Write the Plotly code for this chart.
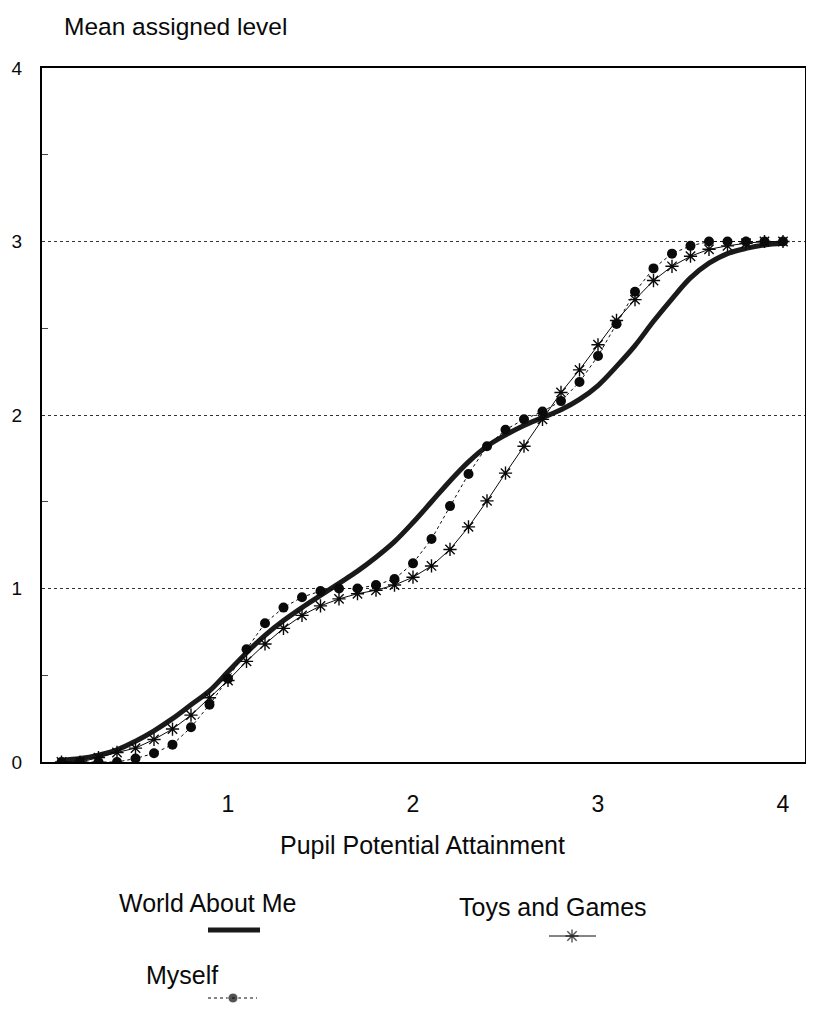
import plotly.graph_objects as go

x_vals = [round(0.1 * i, 1) for i in range(1, 41)]

world_about_me = [0.01, 0.02, 0.04, 0.07, 0.12, 0.18, 0.25, 0.33, 0.41, 0.52,
                  0.63, 0.73, 0.815, 0.89, 0.96, 1.03, 1.10, 1.18, 1.27, 1.38,
                  1.50, 1.62, 1.73, 1.82, 1.885, 1.94, 1.985, 2.03, 2.09, 2.17,
                  2.28, 2.40, 2.54, 2.67, 2.79, 2.875, 2.93, 2.96, 2.98, 2.99]

toys_and_games = [0.0, 0.0, 0.025, 0.055, 0.08, 0.13, 0.19, 0.27, 0.37, 0.47,
                  0.58, 0.68, 0.77, 0.845, 0.90, 0.94, 0.97, 0.99, 1.02, 1.065,
                  1.13, 1.225, 1.355, 1.505, 1.665, 1.82, 1.975, 2.13, 2.26, 2.405,
                  2.545, 2.665, 2.775, 2.857, 2.915, 2.955, 2.975, 2.99, 3.0, 3.0]

myself = [0.0, 0.0, 0.0, 0.0, 0.02, 0.05, 0.10, 0.20, 0.33, 0.48,
          0.65, 0.80, 0.89, 0.95, 0.985, 1.0, 1.0, 1.02, 1.055, 1.145,
          1.285, 1.475, 1.66, 1.82, 1.915, 1.975, 2.02, 2.08, 2.19, 2.34,
          2.525, 2.71, 2.845, 2.93, 2.975, 3.0, 3.0, 3.0, 3.0, 3.0]

y_ticks = [0, 1, 2, 3, 4]
x_ticks = [1, 2, 3, 4]

FONT = "Liberation Sans, Arial, sans-serif"
INK = "#0a0a0a"

# page adds an 8px body margin around the figure
W, Hfig = 798, 995
OFF = 8
ML, MR, MT = 34, 1, 60
PW = W - ML - MR
PH = Hfig - MT


def px(X):   # window pixel -> paper x
    return (X - OFF - ML) / PW


def py(Y):   # window pixel -> paper y
    return 1 - (Y - OFF - MT) / PH


main_bottom = py(762)
leg_top = main_bottom - 0.005
y2_bottom = Hfig + OFF
y2_top = y2_bottom - leg_top * PH

fig = go.Figure()

fig.add_trace(go.Scatter(x=x_vals, y=world_about_me, mode="lines",
                         line=dict(color="#1a1a1a", width=5, shape="spline"),
                         showlegend=False))
fig.add_trace(go.Scatter(x=x_vals, y=toys_and_games, mode="lines+markers",
                         line=dict(color=INK, width=1),
                         marker=dict(symbol="asterisk-open", size=11,
                                     line=dict(color=INK, width=1.4)),
                         showlegend=False))
fig.add_trace(go.Scatter(x=x_vals, y=myself, mode="lines+markers",
                         line=dict(color=INK, width=1, dash="dot"),
                         marker=dict(symbol="circle", size=10, color=INK),
                         showlegend=False))

# legend keys drawn in a helper axis laid out in window-pixel units
fig.add_trace(go.Scatter(x=[208, 260], y=[930, 930], mode="lines",
                         line=dict(color="#1a1a1a", width=5),
                         xaxis="x2", yaxis="y2", showlegend=False, cliponaxis=False))
fig.add_trace(go.Scatter(x=[549, 572, 596], y=[936, 936, 936], mode="lines+markers",
                         line=dict(color=INK, width=1),
                         marker=dict(symbol="asterisk-open", size=[0, 11, 0],
                                     line=dict(color=INK, width=1.4)),
                         xaxis="x2", yaxis="y2", showlegend=False, cliponaxis=False))
fig.add_trace(go.Scatter(x=[208, 233, 257], y=[998, 998, 998], mode="lines+markers",
                         line=dict(color=INK, width=1, dash="dot"),
                         marker=dict(symbol="circle", size=[0, 10, 0], color=INK),
                         xaxis="x2", yaxis="y2", showlegend=False, cliponaxis=False))

fig.update_layout(
    width=W, height=Hfig,
    margin=dict(l=ML, r=MR, t=MT, b=0, pad=0, autoexpand=False),
    paper_bgcolor="white", plot_bgcolor="white",
    font=dict(family=FONT, color=INK),
    xaxis=dict(domain=[0, 1], range=[(42 - 43) / 185, (805 - 43) / 185],
               tickvals=x_ticks, ticktext=[str(v) for v in x_ticks],
               tickfont=dict(size=23), ticks="", ticklabelstandoff=20,
               showgrid=False, zeroline=False, automargin=False,
               showline=True, linecolor="black", linewidth=2, mirror=True),
    yaxis=dict(domain=[main_bottom, 1], range=[0, 4], tickvals=y_ticks,
               ticktext=[str(v) for v in y_ticks],
               tickfont=dict(size=19), ticks="", ticklabelstandoff=14,
               showgrid=True, gridcolor="#333333", gridwidth=1, griddash="dot",
               zeroline=False, automargin=False,
               showline=True, linecolor="black", linewidth=2, mirror=True,
               minor=dict(tickvals=[0.5, 1.5, 2.5, 3.5], ticks="inside",
                          ticklen=6, tickcolor="#444444", tickwidth=1,
                          showgrid=False)),
    xaxis2=dict(domain=[0, 1], range=[42, 805], visible=False, anchor="y2",
                fixedrange=True, automargin=False),
    yaxis2=dict(domain=[0, leg_top], range=[y2_bottom, y2_top],
                visible=False, anchor="x2", fixedrange=True, automargin=False),
    annotations=[
        dict(text="Mean assigned level", xref="paper", yref="paper",
             x=px(62), y=py(26), xanchor="left", yanchor="middle",
             showarrow=False, font=dict(size=24.5)),
        dict(text="Pupil Potential Attainment", xref="paper", yref="paper",
             x=px(422), y=py(845), xanchor="center", yanchor="middle",
             showarrow=False, font=dict(size=25)),
        dict(text="World About Me", xref="paper", yref="paper",
             x=px(207), y=py(903), xanchor="center", yanchor="middle",
             showarrow=False, font=dict(size=25)),
        dict(text="Toys and Games", xref="paper", yref="paper",
             x=px(553), y=py(907), xanchor="center", yanchor="middle",
             showarrow=False, font=dict(size=25)),
        dict(text="Myself", xref="paper", yref="paper",
             x=px(182), y=py(975), xanchor="center", yanchor="middle",
             showarrow=False, font=dict(size=25)),
    ],
)

fig.write_html("out.html")
